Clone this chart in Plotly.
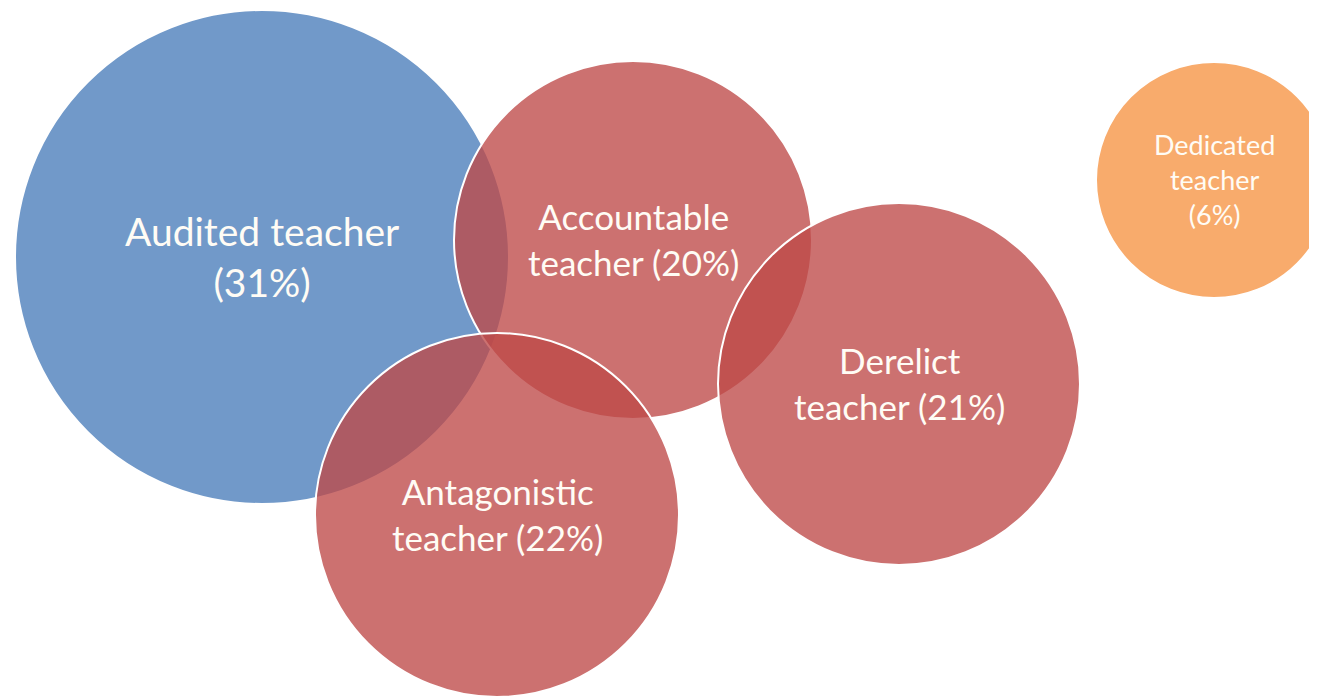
import plotly.graph_objects as go

labels = ["Audited teacher<br>(31%)", "Accountable<br>teacher (20%)", "Derelict<br>teacher (21%)",
          "Antagonistic<br>teacher (22%)", "Dedicated<br>teacher<br>(6%)"]
x_vals = [262, 633, 899, 497, 1214]
y_vals = [257, 240, 384, 515, 180]
diameters = [494, 358, 362, 364, 236]
colors = ["rgba(73,124,186,0.78)", "rgba(190,73,72,0.78)", "rgba(190,73,72,0.78)",
          "rgba(190,73,72,0.78)", "rgba(246,147,67,0.78)"]
font_sizes = [39, 35, 35, 35, 27]

# the page body has an 8px margin; size and range the figure so data units equal window pixels
OFF = 8
WIN_W, WIN_H = 1317, 698

fig = go.Figure()
fig.add_trace(go.Scatter(
    x=x_vals, y=y_vals, mode="markers",
    marker=dict(size=diameters, sizemode="diameter", color=colors, opacity=1,
                line=dict(color="white", width=2)),
    cliponaxis=False,
    hoverinfo="skip", showlegend=False,
))
for lx, ly, txt, fs in zip(x_vals, y_vals, labels, font_sizes):
    fig.add_annotation(x=lx, y=ly, text=txt, showarrow=False,
                       xanchor="center", yanchor="middle", yshift=1,
                       font=dict(family="Lato", size=fs, color="#FFFCF5"))
fig.update_layout(
    width=WIN_W - OFF, height=WIN_H - OFF, margin=dict(l=0, r=0, t=0, b=0),
    paper_bgcolor="white", plot_bgcolor="white",
    xaxis=dict(range=[OFF, WIN_W], visible=False, fixedrange=True),
    yaxis=dict(range=[WIN_H, OFF], visible=False, fixedrange=True),
)
fig.write_html("out.html")
